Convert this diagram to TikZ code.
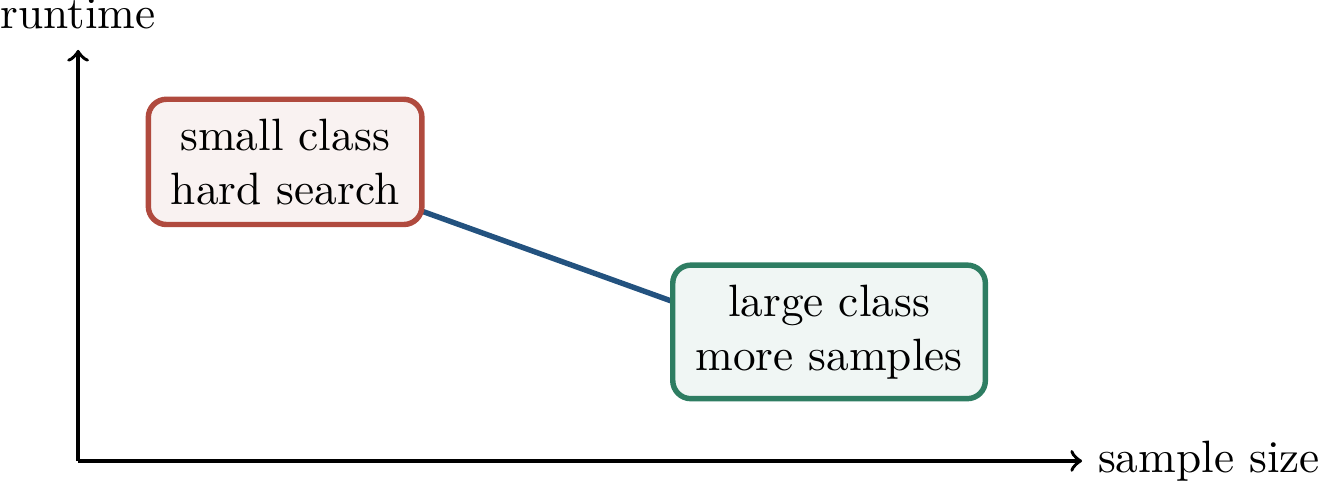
\documentclass[tikz,border=0pt]{standalone}
\usepackage{amsmath, amssymb}
\usetikzlibrary{arrows}

\definecolor{hardRed}{HTML}{B04A3E}
\definecolor{easyGreen}{HTML}{2E7D62}
\definecolor{trendBlue}{HTML}{23527F}

\begin{document}
\begin{tikzpicture}
	\tikzstyle{axisStyle} = [thick, ->]
	\tikzstyle{trendStyle} = [very thick, trendBlue]
	\tikzstyle{boxStyle} = [rounded corners = 4pt, very thick, align = center, inner xsep = 5pt, inner ysep = 4.3pt]
	\tikzstyle{smallClassStyle} = [boxStyle, draw = hardRed, fill = hardRed!7]
	\tikzstyle{largeClassStyle} = [boxStyle, draw = easyGreen, fill = easyGreen!7]
	\useasboundingbox (-0.606, -0.155) rectangle (9.627, 3.576);
	\coordinate (origin) at (0, 0);
	\coordinate (xEnd) at (7.789, 0);
	\coordinate (yEnd) at (0, 3.189);
	\coordinate (hard) at (1.606, 2.320);
	\coordinate (easy) at (5.826, 1.001);
	\coordinate (trendEnd) at (5.826, 0.80);
	\draw[axisStyle] (origin) -- (xEnd);
	\draw[axisStyle] (origin) -- (yEnd);
	\node[right] (xLabel) at (xEnd) {sample size};
	\node[above = 1pt] (yLabel) at (yEnd) {runtime};
	\draw[trendStyle] (hard) -- (trendEnd);
	\node[smallClassStyle] (small) at (hard) {small class\\hard search};
	\node[largeClassStyle] (large) at (easy) {large class\\more samples};
\end{tikzpicture}
\end{document}
